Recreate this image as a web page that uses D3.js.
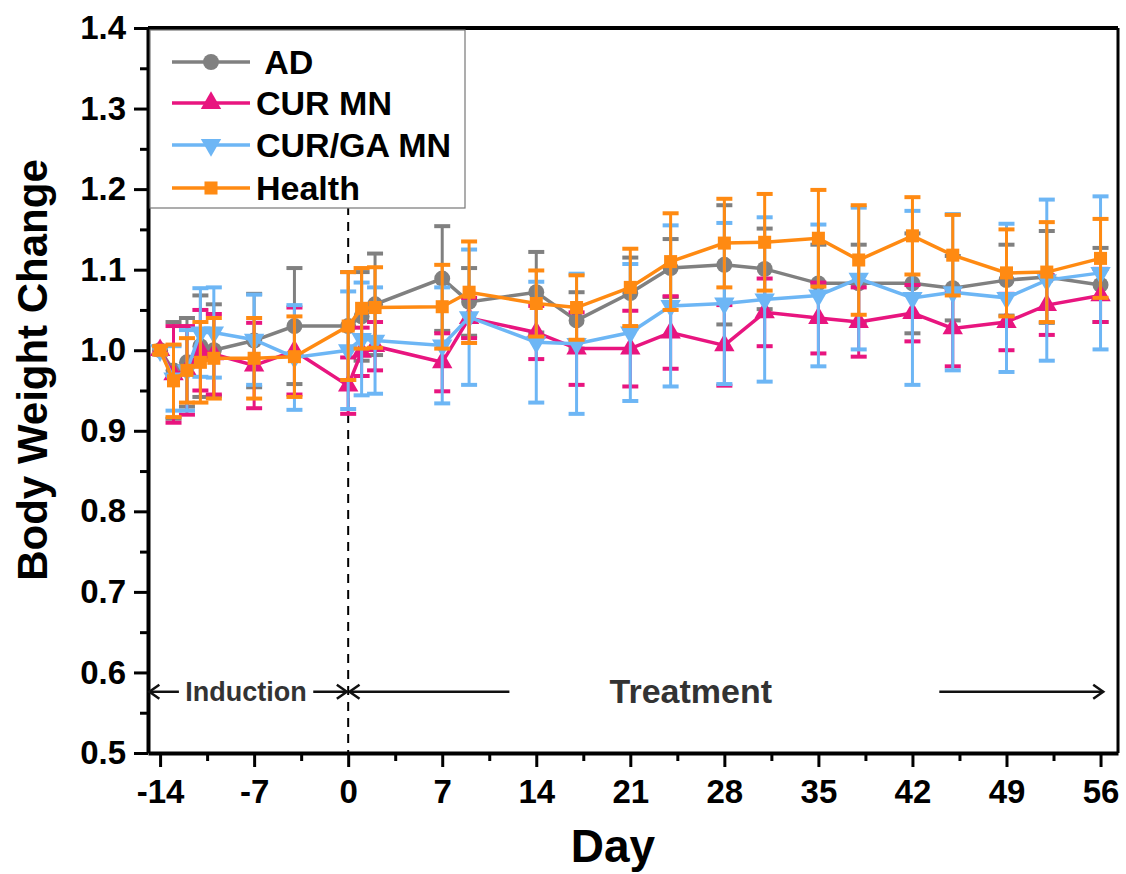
<!DOCTYPE html>
<html>
<head>
<meta charset="utf-8">
<script src="https://cdn.jsdelivr.net/npm/d3@7"></script>
<style>
  body { margin: 0; background: #fff; }
  svg text { font-family: "Liberation Sans", Arial, sans-serif; font-weight: bold; }
</style>
</head>
<body>
<svg id="chart" width="1126" height="874"></svg>
<script>
// days measured
const days = [-14, -13, -12, -11, -10, -7, -4, 0, 1, 2, 7, 9, 14, 17, 21, 24, 28, 31, 35, 38, 42, 45, 49, 52, 56];

// mean body weight change per group
const adMean = [1.0, 0.975, 0.985, 1.005, 1.0, 1.012, 1.03, 1.03, 1.042, 1.057, 1.089, 1.06, 1.072, 1.037, 1.071, 1.102, 1.106, 1.101, 1.083, 1.083, 1.083, 1.077, 1.087, 1.091, 1.081];
const curMean = [1.0, 0.97, 0.975, 1.0, 0.995, 0.981, 0.999, 0.956, 0.998, 1.005, 0.985, 1.04, 1.022, 1.002, 1.002, 1.022, 1.006, 1.047, 1.04, 1.035, 1.046, 1.027, 1.035, 1.056, 1.068];
const curGaMean = [1.0, 0.965, 0.975, 1.022, 1.022, 1.013, 0.991, 1.0, 1.014, 1.012, 1.006, 1.041, 1.01, 1.008, 1.022, 1.055, 1.058, 1.063, 1.068, 1.089, 1.065, 1.072, 1.065, 1.087, 1.096];
const healthMean = [1.0, 0.962, 0.975, 0.985, 0.99, 0.99, 0.992, 1.03, 1.052, 1.053, 1.054, 1.072, 1.058, 1.053, 1.078, 1.11, 1.133, 1.134, 1.139, 1.112, 1.142, 1.118, 1.096, 1.097, 1.114];

// standard deviations
const adSd = [0.005, 0.06, 0.055, 0.063, 0.057, 0.058, 0.072, 0.067, 0.055, 0.063, 0.065, 0.042, 0.05, 0.035, 0.044, 0.036, 0.074, 0.05, 0.048, 0.048, 0.062, 0.04, 0.044, 0.057, 0.046];
const curSd = [0.005, 0.06, 0.055, 0.05, 0.05, 0.053, 0.054, 0.035, 0.03, 0.03, 0.036, 0.025, 0.033, 0.045, 0.047, 0.045, 0.05, 0.042, 0.044, 0.043, 0.035, 0.047, 0.035, 0.037, 0.033];
const curGaSd = [0.005, 0.04, 0.05, 0.055, 0.056, 0.056, 0.065, 0.073, 0.07, 0.066, 0.072, 0.084, 0.075, 0.087, 0.085, 0.1, 0.1, 0.102, 0.088, 0.088, 0.108, 0.097, 0.092, 0.1, 0.095];
const healthSd = [0.005, 0.045, 0.04, 0.05, 0.05, 0.05, 0.05, 0.067, 0.05, 0.05, 0.052, 0.063, 0.041, 0.04, 0.048, 0.06, 0.055, 0.06, 0.06, 0.068, 0.048, 0.05, 0.054, 0.062, 0.049];

const groupNames = [" AD", "CUR MN", "CUR/GA MN", "Health"];
const groupColors = ["#808080", "#e8157f", "#6db6f5", "#ff8a12"];
const groupSymbols = [d3.symbolCircle, d3.symbolTriangle, "down", d3.symbolSquare];

const xTicks = [-14, -7, 0, 7, 14, 21, 28, 35, 42, 49, 56];
const yTicks = [0.5, 0.6, 0.7, 0.8, 0.9, 1.0, 1.1, 1.2, 1.3, 1.4];

const svg = d3.select("#chart");
const margin = {left: 148, right: 8, top: 28, bottom: 121};
const W = 1126 - margin.left - margin.right;
const H = 874 - margin.top - margin.bottom;

const x = d3.scaleLinear().domain([-14.9, 57.3]).range([0, W]);
const y = d3.scaleLinear().domain([0.5, 1.4]).range([H, 0]);

const g = svg.append("g").attr("transform", "translate(" + margin.left + "," + margin.top + ")");

// minor ticks
const xMinor = xTicks.slice(0, -1).map(d => d + 3.5);
g.append("g").attr("transform", "translate(0," + H + ")")
  .call(d3.axisBottom(x).tickValues(xMinor).tickSize(8).tickFormat(""))
  .call(a => a.select(".domain").remove())
  .selectAll("line").attr("stroke", "#000").attr("stroke-width", 3);
const yMinor = yTicks.slice(0, -1).map(d => d + 0.05);
g.append("g")
  .call(d3.axisLeft(y).tickValues(yMinor).tickSize(8).tickFormat(""))
  .call(a => a.select(".domain").remove())
  .selectAll("line").attr("stroke", "#000").attr("stroke-width", 3);

// major axes
const xAxis = g.append("g").attr("transform", "translate(0," + H + ")")
  .call(d3.axisBottom(x).tickValues(xTicks).tickSize(14).tickSizeOuter(0).tickPadding(6).tickFormat(d => String(d)));
const yAxis = g.append("g")
  .call(d3.axisLeft(y).tickValues(yTicks).tickSize(14).tickSizeOuter(0).tickPadding(6).tickFormat(d3.format(".1f")));
[xAxis, yAxis].forEach(a => {
  a.select(".domain").attr("stroke", "#000").attr("stroke-width", 4);
  a.selectAll(".tick line").attr("stroke", "#000").attr("stroke-width", 3);
  a.selectAll(".tick text").attr("fill", "#000").style("font-size", "33px");
});
xAxis.selectAll(".tick text").attr("dy", "0.9em");
yAxis.selectAll(".tick text").attr("dx", "-2");

// frame top and right
g.append("line").attr("x1", 0).attr("x2", W).attr("y1", 0).attr("y2", 0).attr("stroke", "#000").attr("stroke-width", 4);
g.append("line").attr("x1", W).attr("x2", W).attr("y1", 0).attr("y2", H).attr("stroke", "#000").attr("stroke-width", 3);

// day 0 divider
g.append("line").attr("x1", x(0)).attr("x2", x(0)).attr("y1", 2).attr("y2", H)
  .attr("stroke", "#000").attr("stroke-width", 2).attr("stroke-dasharray", "9,7");

// series
const means = [adMean, curMean, curGaMean, healthMean];
const sds = [adSd, curSd, curGaSd, healthSd];

function symbolPath(i, size) {
  if (groupSymbols[i] === "down") return d3.symbol(d3.symbolTriangle, size)();
  return d3.symbol(groupSymbols[i], size)();
}
function symbolRotate(i) { return groupSymbols[i] === "down" ? " rotate(180)" : ""; }
const symSizes = [200, 180, 180, 170];

means.forEach((m, i) => {
  const rows = days.map((d, k) => ({day: d, v: m[k], sd: sds[i][k]}));
  const col = groupColors[i];
  const sg = g.append("g");
  const eb = sg.selectAll(".eb").data(rows).enter().append("g");
  eb.append("line").attr("x1", d => x(d.day)).attr("x2", d => x(d.day))
    .attr("y1", d => y(d.v - d.sd)).attr("y2", d => y(d.v + d.sd))
    .attr("stroke", col).attr("stroke-width", 3);
  [-1, 1].forEach(s => {
    eb.append("line").attr("x1", d => x(d.day) - 8).attr("x2", d => x(d.day) + 8)
      .attr("y1", d => y(d.v + s * d.sd)).attr("y2", d => y(d.v + s * d.sd))
      .attr("stroke", col).attr("stroke-width", 4);
  });
  sg.append("path").datum(rows)
    .attr("d", d3.line().x(d => x(d.day)).y(d => y(d.v)))
    .attr("fill", "none").attr("stroke", col).attr("stroke-width", 3.5);
  sg.selectAll(".pt").data(rows).enter().append("path")
    .attr("transform", d => "translate(" + x(d.day) + "," + y(d.v) + ")" + symbolRotate(i))
    .attr("d", symbolPath(i, symSizes[i])).attr("fill", col);
});

// legend
const lg = svg.append("g").attr("transform", "translate(150,30)");
lg.append("rect").attr("width", 315).attr("height", 178).attr("fill", "#fff")
  .attr("stroke", "#777").attr("stroke-width", 1.2);
const legY = [32, 73, 115, 158];
groupNames.forEach((name, i) => {
  const row = lg.append("g").attr("transform", "translate(0," + legY[i] + ")");
  row.append("line").attr("x1", 22).attr("x2", 100).attr("stroke", groupColors[i]).attr("stroke-width", 3.5);
  row.append("path").attr("transform", "translate(61,0)" + symbolRotate(i))
    .attr("d", symbolPath(i, symSizes[i])).attr("fill", groupColors[i]);
  row.append("text").attr("x", 106).attr("y", 12).text(name)
    .style("font-size", "34px").attr("fill", "#000").style("white-space", "pre");
});

// axis titles
svg.append("text").attr("x", 613).attr("y", 862).attr("text-anchor", "middle")
  .style("font-size", "46px").text("Day");
svg.append("text").attr("transform", "translate(47,370) rotate(-90)")
  .attr("text-anchor", "middle").style("font-size", "42px").text("Body Weight Change");

// induction / treatment annotation
const annY = y(0.576);
const ann = g.append("g").attr("stroke", "#111").attr("stroke-width", 2.5).attr("fill", "none");
function arrow(x1, x2) {
  ann.append("line").attr("x1", x1).attr("x2", x2).attr("y1", annY).attr("y2", annY);
  const dir = x2 > x1 ? 1 : -1;
  ann.append("path").attr("d", "M" + (x2 - dir * 10) + "," + (annY - 7) + "L" + x2 + "," + annY + "L" + (x2 - dir * 10) + "," + (annY + 7));
}
arrow(x(-12.6), x(-14.8));
arrow(x(-2.6), x(-0.1));
arrow(x(12), x(0.1));
arrow(x(44), x(56.2));
g.append("text").attr("x", x(-7.6)).attr("y", annY + 9).attr("text-anchor", "middle")
  .attr("fill", "#333").style("font-size", "27px").text("Induction");
g.append("text").attr("x", x(25.5)).attr("y", annY + 11).attr("text-anchor", "middle")
  .attr("fill", "#333").style("font-size", "34px").text("Treatment");
</script>
</body>
</html>
